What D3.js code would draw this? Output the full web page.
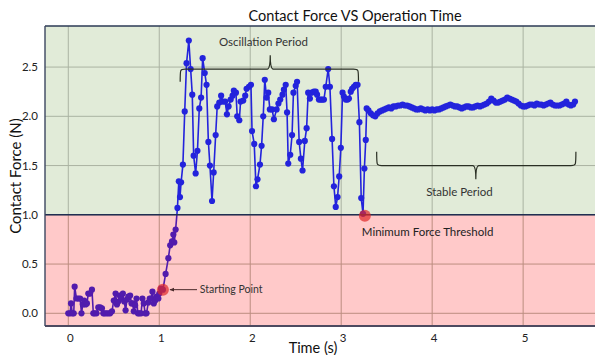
<!DOCTYPE html>
<html>
<head>
<meta charset="utf-8">
<script src="https://cdn.jsdelivr.net/npm/d3@7"></script>
<style>
  body { margin: 0; background: #fff; }
  svg { display: block; font-family: Lato, "Open Sans", sans-serif; }
</style>
</head>
<body>
<svg id="chart"></svg>
<script>
// contact force samples, [time (s), force (N)]
const startPhase = [
  [0.00, 0.00], [0.02, 0.00], [0.03, 0.10], [0.045, 0.00], [0.06, 0.00], [0.07, 0.27],
  [0.09, 0.15], [0.11, 0.15], [0.13, 0.15], [0.145, 0.00], [0.16, 0.09], [0.175, 0.13],
  [0.19, 0.09], [0.205, 0.10], [0.22, 0.20], [0.24, 0.20], [0.26, 0.24], [0.275, 0.00],
  [0.29, 0.00], [0.31, 0.00], [0.33, 0.06], [0.35, 0.06], [0.37, 0.05], [0.385, 0.00],
  [0.40, 0.00], [0.42, 0.00], [0.44, 0.00], [0.46, 0.00], [0.48, 0.02], [0.50, 0.13],
  [0.52, 0.20], [0.535, 0.09], [0.55, 0.12], [0.565, 0.18], [0.58, 0.15], [0.60, 0.20],
  [0.615, 0.12], [0.63, 0.03], [0.645, 0.14], [0.66, 0.17], [0.68, 0.18], [0.695, 0.10],
  [0.71, 0.10], [0.72, 0.02], [0.735, 0.08], [0.75, 0.15], [0.765, 0.00], [0.78, 0.00],
  [0.80, 0.00], [0.815, 0.15], [0.83, 0.10], [0.845, 0.00], [0.86, 0.00], [0.88, 0.11],
  [0.895, 0.15], [0.91, 0.15], [0.925, 0.22], [0.94, 0.10], [0.955, 0.13], [0.97, 0.17],
  [0.99, 0.15], [1.00, 0.20], [1.02, 0.25], [1.04, 0.24], [1.07, 0.40], [1.10, 0.56],
  [1.12, 0.69], [1.14, 0.73], [1.155, 0.80], [1.165, 0.72], [1.18, 0.85], [1.20, 1.07],
  [1.215, 1.34], [1.228, 1.18], [1.24, 1.33]
];

const oscillationPhase = [
  [1.26, 1.51], [1.28, 2.05], [1.30, 2.54], [1.325, 2.77], [1.345, 2.48], [1.363, 2.22],
  [1.378, 1.60], [1.40, 1.42], [1.42, 1.65], [1.44, 2.08], [1.46, 2.19], [1.477, 2.59],
  [1.50, 2.44], [1.52, 2.32], [1.54, 1.74], [1.557, 1.50], [1.58, 1.14], [1.598, 1.43],
  [1.62, 1.81], [1.637, 2.10], [1.66, 2.14], [1.68, 2.21], [1.70, 2.15], [1.725, 2.15],
  [1.744, 2.02], [1.762, 2.10], [1.785, 2.17], [1.806, 2.21], [1.82, 2.26], [1.843, 2.24],
  [1.857, 2.00], [1.88, 1.96], [1.894, 2.15], [1.923, 2.16], [1.945, 2.21], [1.96, 2.28],
  [1.986, 2.30], [2.008, 2.32], [2.02, 1.85], [2.044, 1.72], [2.063, 1.29], [2.08, 1.36],
  [2.107, 1.51], [2.125, 1.70], [2.143, 2.00], [2.16, 2.37], [2.18, 2.19], [2.198, 2.24],
  [2.216, 2.07], [2.24, 2.07], [2.26, 1.97], [2.29, 2.07], [2.31, 2.13], [2.33, 2.17],
  [2.355, 2.22], [2.37, 2.27], [2.39, 2.32], [2.405, 2.04], [2.418, 1.52], [2.44, 1.61],
  [2.46, 1.81], [2.475, 2.24], [2.50, 2.31], [2.515, 2.35], [2.538, 1.74], [2.557, 1.57],
  [2.575, 1.45], [2.60, 1.75], [2.62, 1.88], [2.637, 2.24], [2.656, 2.18], [2.675, 2.24],
  [2.70, 2.25], [2.72, 2.25], [2.735, 2.22], [2.755, 2.17], [2.775, 2.17], [2.79, 2.17],
  [2.81, 2.17], [2.83, 2.30], [2.857, 2.48], [2.876, 2.30], [2.90, 1.77], [2.92, 1.29],
  [2.94, 1.08], [2.96, 1.18], [2.978, 1.39], [2.996, 1.68], [3.015, 2.24], [3.03, 2.20],
  [3.05, 2.17], [3.07, 2.17], [3.085, 2.18], [3.105, 2.25], [3.12, 2.28], [3.14, 2.30],
  [3.16, 2.32], [3.18, 2.32], [3.20, 1.94], [3.22, 1.17], [3.24, 1.01], [3.255, 1.47],
  [3.27, 1.76], [3.28, 2.08]
];

const stablePhase = [
  [3.300, 2.06], [3.325, 2.03], [3.350, 2.01], [3.375, 2.00], [3.400, 2.03], [3.425, 2.05],
  [3.450, 2.06], [3.475, 2.07], [3.500, 2.08], [3.525, 2.09], [3.550, 2.08], [3.575, 2.10],
  [3.600, 2.10], [3.625, 2.11], [3.650, 2.11], [3.675, 2.12], [3.700, 2.11], [3.725, 2.11],
  [3.750, 2.10], [3.775, 2.09], [3.800, 2.08], [3.825, 2.07], [3.850, 2.07], [3.875, 2.08],
  [3.900, 2.07], [3.925, 2.06], [3.950, 2.07], [3.975, 2.06], [4.000, 2.07], [4.025, 2.06],
  [4.050, 2.07], [4.075, 2.07], [4.100, 2.08], [4.125, 2.09], [4.150, 2.10], [4.175, 2.11],
  [4.200, 2.12], [4.225, 2.11], [4.250, 2.10], [4.275, 2.10], [4.300, 2.09], [4.325, 2.08],
  [4.350, 2.09], [4.375, 2.10], [4.400, 2.10], [4.425, 2.09], [4.450, 2.09], [4.475, 2.10],
  [4.500, 2.11], [4.525, 2.10], [4.550, 2.11], [4.575, 2.12], [4.600, 2.13], [4.625, 2.15],
  [4.650, 2.18], [4.675, 2.16], [4.700, 2.14], [4.725, 2.14], [4.750, 2.15], [4.775, 2.16],
  [4.800, 2.17], [4.825, 2.19], [4.850, 2.18], [4.875, 2.17], [4.900, 2.16], [4.925, 2.15],
  [4.950, 2.13], [4.975, 2.11], [5.000, 2.10], [5.025, 2.10], [5.050, 2.11], [5.075, 2.12],
  [5.100, 2.12], [5.125, 2.11], [5.150, 2.13], [5.175, 2.12], [5.200, 2.12], [5.225, 2.11],
  [5.250, 2.12], [5.275, 2.13], [5.300, 2.14], [5.325, 2.12], [5.350, 2.11], [5.375, 2.11],
  [5.400, 2.11], [5.425, 2.12], [5.450, 2.13], [5.475, 2.15], [5.500, 2.12], [5.525, 2.11],
  [5.550, 2.12], [5.570, 2.15]
];

const xTicks = [0, 1, 2, 3, 4, 5];
const yTicks = [0.0, 0.5, 1.0, 1.5, 2.0, 2.5];
const forceThreshold = 1.0;

// highlighted points: [time, force]
const startingPoint = [1.04, 0.24];
const minimumPoint = [3.26, 0.99];

// brace spans: [t0, t1, level, curl level, mid t, tip level]
const oscillationBrace = [1.23, 3.19, 2.48, 2.35, 2.22, 2.62];
const stableBrace = [3.39, 5.58, 1.50, 1.64, 4.48, 1.36];

const width = 595, height = 355;
const margin = { top: 26, right: 0, bottom: 29, left: 45 };

const svg = d3.select("#chart")
  .attr("width", width)
  .attr("height", height);

const x = d3.scaleLinear()
  .domain([-0.256, 5.79])
  .range([margin.left, width - margin.right]);

const y = d3.scaleLinear()
  .domain([-0.129, 2.917])
  .range([height - margin.bottom, margin.top]);

const plotLeft = margin.left, plotRight = width - margin.right;
const plotTop = margin.top, plotBottom = height - margin.bottom;

// background: green above threshold, white below (pink overlay comes later)
svg.append("rect")
  .attr("x", plotLeft).attr("y", plotTop)
  .attr("width", plotRight - plotLeft)
  .attr("height", y(forceThreshold) - plotTop)
  .attr("fill", "#e1ebd8");

// grid
const grid = svg.append("g").attr("class", "grid");
grid.selectAll("line.v")
  .data(xTicks)
  .enter().append("line")
  .attr("class", "v")
  .attr("x1", d => x(d)).attr("x2", d => x(d))
  .attr("y1", plotTop).attr("y2", plotBottom)
  .attr("stroke", "#aab3a2")
  .attr("stroke-width", 1);
grid.selectAll("line.h")
  .data(yTicks)
  .enter().append("line")
  .attr("class", "h")
  .attr("x1", plotLeft).attr("x2", plotRight)
  .attr("y1", d => y(d)).attr("y2", d => y(d))
  .attr("stroke", "#aab3a2")
  .attr("stroke-width", 1);

// force trace
const allPoints = startPhase.concat(oscillationPhase, stablePhase);

const line = d3.line()
  .x(d => x(d[0]))
  .y(d => y(d[1]));

svg.append("path")
  .datum(allPoints)
  .attr("fill", "none")
  .attr("stroke", "#2323dc")
  .attr("stroke-width", 1.6)
  .attr("d", line);

svg.append("g")
  .selectAll("circle")
  .data(allPoints)
  .enter().append("circle")
  .attr("cx", d => x(d[0]))
  .attr("cy", d => y(d[1]))
  .attr("r", 3.1)
  .attr("fill", "#2323dc");

// pink zone below threshold, drawn on top so the trace turns purple
svg.append("rect")
  .attr("x", plotLeft).attr("y", y(forceThreshold))
  .attr("width", plotRight - plotLeft)
  .attr("height", plotBottom - y(forceThreshold))
  .attr("fill", "#ff0000")
  .attr("fill-opacity", 0.21);

// frame + threshold line
svg.append("line")
  .attr("x1", plotLeft).attr("x2", plotRight)
  .attr("y1", y(forceThreshold)).attr("y2", y(forceThreshold))
  .attr("stroke", "#1f2f52").attr("stroke-width", 1.4);
svg.append("line")
  .attr("x1", plotLeft).attr("x2", plotRight)
  .attr("y1", plotTop).attr("y2", plotTop)
  .attr("stroke", "#2b3a55").attr("stroke-width", 1.4);
svg.append("line")
  .attr("x1", plotLeft).attr("x2", plotRight)
  .attr("y1", plotBottom).attr("y2", plotBottom)
  .attr("stroke", "#4d4a60").attr("stroke-width", 2);
svg.append("line")
  .attr("x1", plotLeft).attr("x2", plotLeft)
  .attr("y1", plotTop).attr("y2", plotBottom)
  .attr("stroke", "#3b4660").attr("stroke-width", 1.4);

// highlighted points
svg.selectAll("circle.mark")
  .data([startingPoint, minimumPoint])
  .enter().append("circle")
  .attr("class", "mark")
  .attr("cx", d => x(d[0]))
  .attr("cy", d => y(d[1]))
  .attr("r", 6)
  .attr("fill", "#e02828")
  .attr("fill-opacity", 0.7);

// axis tick labels
svg.append("g")
  .selectAll("text")
  .data(yTicks)
  .enter().append("text")
  .attr("x", plotLeft - 7)
  .attr("y", d => y(d))
  .attr("dy", "0.35em")
  .attr("text-anchor", "end")
  .attr("font-size", 11.5)
  .attr("fill", "#222")
  .text(d => d3.format(".1f")(d));

svg.append("g")
  .selectAll("text")
  .data(xTicks)
  .enter().append("text")
  .attr("x", d => x(d) + 2)
  .attr("y", plotBottom + 16)
  .attr("text-anchor", "middle")
  .attr("font-size", 11.5)
  .attr("fill", "#222")
  .text(d => d);

// titles
svg.append("text")
  .attr("x", 355).attr("y", 21)
  .attr("text-anchor", "middle")
  .attr("font-size", 14.5)
  .attr("fill", "#111")
  .text("Contact Force VS Operation Time");

svg.append("text")
  .attr("x", 313).attr("y", 353)
  .attr("text-anchor", "middle")
  .attr("font-size", 14.5)
  .attr("fill", "#111")
  .text("Time (s)");

svg.append("text")
  .attr("transform", `translate(21,${(plotTop + plotBottom) / 2}) rotate(-90)`)
  .attr("text-anchor", "middle")
  .attr("font-size", 15)
  .attr("fill", "#111")
  .text("Contact Force (N)");

// braces
function bracePath(b) {
  const [t0, t1, lvl, curl, tm, tip] = b;
  const x0 = x(t0), x1 = x(t1), xm = x(tm);
  const yl = y(lvl), yc = y(curl), yt = y(tip);
  const r = 5;
  return `M${x0},${yc} C${x0},${yl} ${x0},${yl} ${x0 + r},${yl}` +
    ` L${xm - 3},${yl} Q${xm},${yl} ${xm},${yt}` +
    ` Q${xm},${yl} ${xm + 3},${yl}` +
    ` L${x1 - r},${yl} C${x1},${yl} ${x1},${yl} ${x1},${yc}`;
}

svg.selectAll("path.brace")
  .data([oscillationBrace, stableBrace])
  .enter().append("path")
  .attr("class", "brace")
  .attr("fill", "none")
  .attr("stroke", "#2a2f24")
  .attr("stroke-width", 1.2)
  .attr("d", bracePath);

// annotations
svg.append("text")
  .attr("x", x(2.145)).attr("y", y(2.755))
  .attr("dy", "0.35em")
  .attr("text-anchor", "middle")
  .attr("font-size", 11.5)
  .attr("fill", "#333")
  .text("Oscillation Period");

svg.append("text")
  .attr("x", x(4.30)).attr("y", y(1.235))
  .attr("dy", "0.35em")
  .attr("text-anchor", "middle")
  .attr("font-size", 11.5)
  .attr("fill", "#333")
  .text("Stable Period");

svg.append("text")
  .attr("x", x(3.95)).attr("y", y(0.825))
  .attr("dy", "0.35em")
  .attr("text-anchor", "middle")
  .attr("font-size", 11.5)
  .attr("fill", "#222")
  .text("Minimum Force Threshold");

svg.append("text")
  .attr("x", x(1.445)).attr("y", y(0.24))
  .attr("dy", "0.35em")
  .attr("font-size", 10.5)
  .attr("fill", "#333")
  .text("Starting Point");

svg.append("defs").append("marker")
  .attr("id", "arrow")
  .attr("viewBox", "0 0 10 10")
  .attr("refX", 9).attr("refY", 5)
  .attr("markerWidth", 5).attr("markerHeight", 5)
  .attr("orient", "auto")
  .append("path")
  .attr("d", "M0,1 L10,5 L0,9 Z")
  .attr("fill", "#4a2a2a");

svg.append("line")
  .attr("x1", x(1.415)).attr("x2", x(1.118))
  .attr("y1", y(0.24)).attr("y2", y(0.24))
  .attr("stroke", "#4a2a2a")
  .attr("stroke-width", 1)
  .attr("marker-end", "url(#arrow)");
</script>
</body>
</html>
